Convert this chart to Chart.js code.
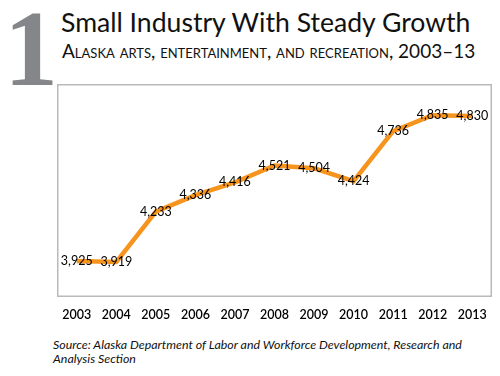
<!DOCTYPE html>
<html>
<head>
<meta charset="utf-8">
<script src="https://cdn.jsdelivr.net/npm/chart.js@4"></script>
<style>
  body { margin: 0; width: 500px; height: 376px; background: #fff; position: relative; overflow: hidden; font-family: Lato, "Open Sans", sans-serif; }
  #big { position: absolute; left: 4px; top: -5px; font-family: "Liberation Serif", "DejaVu Serif", serif; font-weight: bold; font-size: 108px; color: #858689; line-height: 108px; }
  #title { position: absolute; left: 61px; top: 6px; font-size: 26.6px; color: #111; white-space: nowrap; }
  #sub { position: absolute; left: 62px; top: 39px; font-size: 19px; font-variant: small-caps; color: #111; white-space: nowrap; }
  #wrap { position: absolute; left: 57px; top: 84px; width: 435px; height: 240px; }
  #src { position: absolute; left: 53px; top: 338px; font-size: 12.4px; font-style: italic; color: #111; line-height: 14px; width: 440px; }
</style>
</head>
<body>
<div id="big">1</div>
<div id="title">Small Industry With Steady Growth</div>
<div id="sub">Alaska arts, entertainment, and recreation, 2003–13</div>
<div id="wrap"><canvas id="chart"></canvas></div>
<div id="src">Source: Alaska Department of Labor and Workforce Development, Research and<br>Analysis Section</div>
<script>
const years = ['2003', '2004', '2005', '2006', '2007', '2008', '2009', '2010', '2011', '2012', '2013'];
const jobs = [3925, 3919, 4233, 4336, 4416, 4521, 4504, 4424, 4736, 4835, 4830];

const boxPlugin = {
  id: 'box',
  beforeDatasetsDraw(chart) {
    const a = chart.chartArea, c = chart.ctx;
    c.save();
    c.strokeStyle = '#b9b9b9';
    c.lineWidth = 1.5;
    c.strokeRect(a.left + 0.75, a.top + 0.75, a.width - 1.5, a.height - 1.5);
    c.restore();
  }
};

const labelPlugin = {
  id: 'pointLabels',
  afterDatasetsDraw(chart) {
    const c = chart.ctx;
    const pts = chart.getDatasetMeta(0).data;
    c.save();
    c.font = '12.5px Lato, "Open Sans", sans-serif';
    c.fillStyle = '#000';
    c.textAlign = 'center';
    c.textBaseline = 'middle';
    pts.forEach((p, i) => {
      c.fillText(jobs[i].toLocaleString('en-US'), p.x, p.y);
    });
    c.restore();
  }
};

new Chart(document.getElementById('chart'), {
  type: 'line',
  data: {
    labels: years,
    datasets: [{
      data: jobs,
      borderColor: '#f7941d',
      borderWidth: 4.5,
      pointRadius: 0,
      tension: 0
    }]
  },
  options: {
    responsive: true,
    maintainAspectRatio: false,
    animation: false,
    layout: { padding: 0 },
    plugins: { legend: { display: false }, tooltip: { enabled: false } },
    scales: {
      x: {
        offset: true,
        grid: { display: false },
        border: { display: false },
        ticks: { color: '#000', font: { size: 12.5, family: 'Lato', weight: '600' }, padding: 2, maxRotation: 0 }
      },
      y: {
        display: false,
        min: 3700,
        max: 5030
      }
    }
  },
  plugins: [boxPlugin, labelPlugin]
});
</script>
</body>
</html>
